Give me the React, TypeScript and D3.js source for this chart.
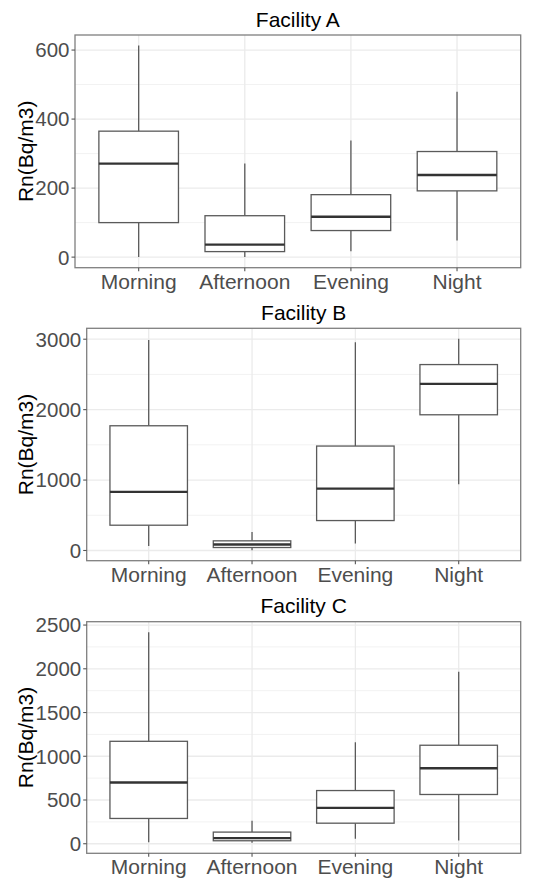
import React from "react";
import * as d3 from "d3";

const categories = ["Morning", "Afternoon", "Evening", "Night"];

// Facility A
const aLow = [0, 0, 17, 48];
const aQ1 = [100, 16, 77, 192];
const aMed = [271, 36, 117, 238];
const aQ3 = [365, 120, 181, 306];
const aHigh = [613, 271, 338, 479];
const aTicks = [0, 200, 400, 600];

// Facility B
const bLow = [65, 5, 99, 940];
const bQ1 = [359, 42, 425, 1927];
const bMed = [831, 85, 879, 2367];
const bQ3 = [1771, 137, 1483, 2640];
const bHigh = [2990, 264, 2957, 3005];
const bTicks = [0, 1000, 2000, 3000];

// Facility C
const cLow = [18, 11, 57, 38];
const cQ1 = [289, 34, 235, 563];
const cMed = [700, 64, 411, 863];
const cQ3 = [1171, 133, 608, 1126];
const cHigh = [2418, 262, 1160, 1967];
const cTicks = [0, 500, 1000, 1500, 2000, 2500];

const titles = ["Facility A", "Facility B", "Facility C"];
const yLabel = "Rn(Bq/m3)";

const FONT = "'Liberation Sans', Arial, Helvetica, sans-serif";

type Panel = {
  title: string;
  low: number[];
  q1: number[];
  med: number[];
  q3: number[];
  high: number[];
  ticks: number[];
  left: number;
  right: number;
  top: number;
  bottom: number;
};

const panels: Panel[] = [
  { title: titles[0], low: aLow, q1: aQ1, med: aMed, q3: aQ3, high: aHigh, ticks: aTicks, left: 75, right: 520.7, top: 35, bottom: 267.7 },
  { title: titles[1], low: bLow, q1: bQ1, med: bMed, q3: bQ3, high: bHigh, ticks: bTicks, left: 86.7, right: 520.7, top: 328.3, bottom: 560.7 },
  { title: titles[2], low: cLow, q1: cQ1, med: cMed, q3: cQ3, high: cHigh, ticks: cTicks, left: 86.7, right: 520.7, top: 621.7, bottom: 853.3 },
];

function PanelView({ p }: { p: Panel }) {
  const dMin = d3.min(p.low) as number;
  const dMax = d3.max(p.high) as number;
  const pad = (dMax - dMin) * 0.05;
  const y = d3.scaleLinear().domain([dMin - pad, dMax + pad]).range([p.bottom, p.top]);
  const x = d3.scaleLinear().domain([0.4, categories.length + 0.6]).range([p.left, p.right]);
  const hw = 0.375;
  const minor: number[] = [];
  for (let i = 0; i < p.ticks.length - 1; i++) minor.push((p.ticks[i] + p.ticks[i + 1]) / 2);
  const step = p.ticks[1] - p.ticks[0];
  const belowMinor = p.ticks[0] - step / 2;
  const aboveMinor = p.ticks[p.ticks.length - 1] + step / 2;
  if (belowMinor >= y.domain()[0]) minor.push(belowMinor);
  if (aboveMinor <= y.domain()[1]) minor.push(aboveMinor);
  const cx = (p.left + p.right) / 2;
  const cy = (p.top + p.bottom) / 2;
  return (
    <g>
      <text x={cx} y={p.top - 8.5} textAnchor="middle" fontFamily={FONT} fontSize={21} fill="#000">
        {p.title}
      </text>
      <rect x={p.left} y={p.top} width={p.right - p.left} height={p.bottom - p.top} fill="#fff" />
      {minor.map((v) => (
        <line key={"mn" + v} x1={p.left} x2={p.right} y1={y(v)} y2={y(v)} stroke="#F2F2F2" strokeWidth={1} />
      ))}
      {p.ticks.map((v) => (
        <line key={"mj" + v} x1={p.left} x2={p.right} y1={y(v)} y2={y(v)} stroke="#EBEBEB" strokeWidth={1.3} />
      ))}
      {categories.map((c, i) => (
        <line key={"vg" + c} x1={x(i + 1)} x2={x(i + 1)} y1={p.top} y2={p.bottom} stroke="#EBEBEB" strokeWidth={1.3} />
      ))}
      {categories.map((c, i) => {
        const xc = x(i + 1);
        const x0 = x(i + 1 - hw);
        const x1 = x(i + 1 + hw);
        return (
          <g key={"box" + c}>
            <line x1={xc} x2={xc} y1={y(p.q3[i])} y2={y(p.high[i])} stroke="#5a5a5a" strokeWidth={1.3} />
            <line x1={xc} x2={xc} y1={y(p.q1[i])} y2={y(p.low[i])} stroke="#5a5a5a" strokeWidth={1.3} />
            <rect x={x0} y={y(p.q3[i])} width={x1 - x0} height={y(p.q1[i]) - y(p.q3[i])} fill="#fff" stroke="#5a5a5a" strokeWidth={1.3} />
            <line x1={x0} x2={x1} y1={y(p.med[i])} y2={y(p.med[i])} stroke="#333" strokeWidth={2.3} />
          </g>
        );
      })}
      <rect x={p.left} y={p.top} width={p.right - p.left} height={p.bottom - p.top} fill="none" stroke="#7f7f7f" strokeWidth={1.3} />
      {p.ticks.map((v) => (
        <g key={"yt" + v}>
          <line x1={p.left - 3.5} x2={p.left} y1={y(v)} y2={y(v)} stroke="#555" strokeWidth={1.1} />
          <text x={p.left - 5.5} y={y(v)} dy="0.36em" textAnchor="end" fontFamily={FONT} fontSize={20.5} fill="#4D4D4D">
            {v}
          </text>
        </g>
      ))}
      {categories.map((c, i) => (
        <g key={"xt" + c}>
          <line x1={x(i + 1)} x2={x(i + 1)} y1={p.bottom} y2={p.bottom + 3.5} stroke="#555" strokeWidth={1.1} />
          <text x={x(i + 1)} y={p.bottom + 21} textAnchor="middle" fontFamily={FONT} fontSize={21} fill="#4D4D4D">
            {c}
          </text>
        </g>
      ))}
      <text
        transform={`translate(${32.5},${cy}) rotate(-90)`}
        textAnchor="middle"
        fontFamily={FONT}
        fontSize={21}
        fill="#000"
      >
        {yLabel}
      </text>
    </g>
  );
}

export default function App() {
  return (
    <svg width={539} height={878} style={{ position: "absolute", left: 0, top: 0, background: "#fff" }}>
      <rect width={539} height={878} fill="#fff" />
      {panels.map((p) => (
        <PanelView key={p.title} p={p} />
      ))}
    </svg>
  );
}
